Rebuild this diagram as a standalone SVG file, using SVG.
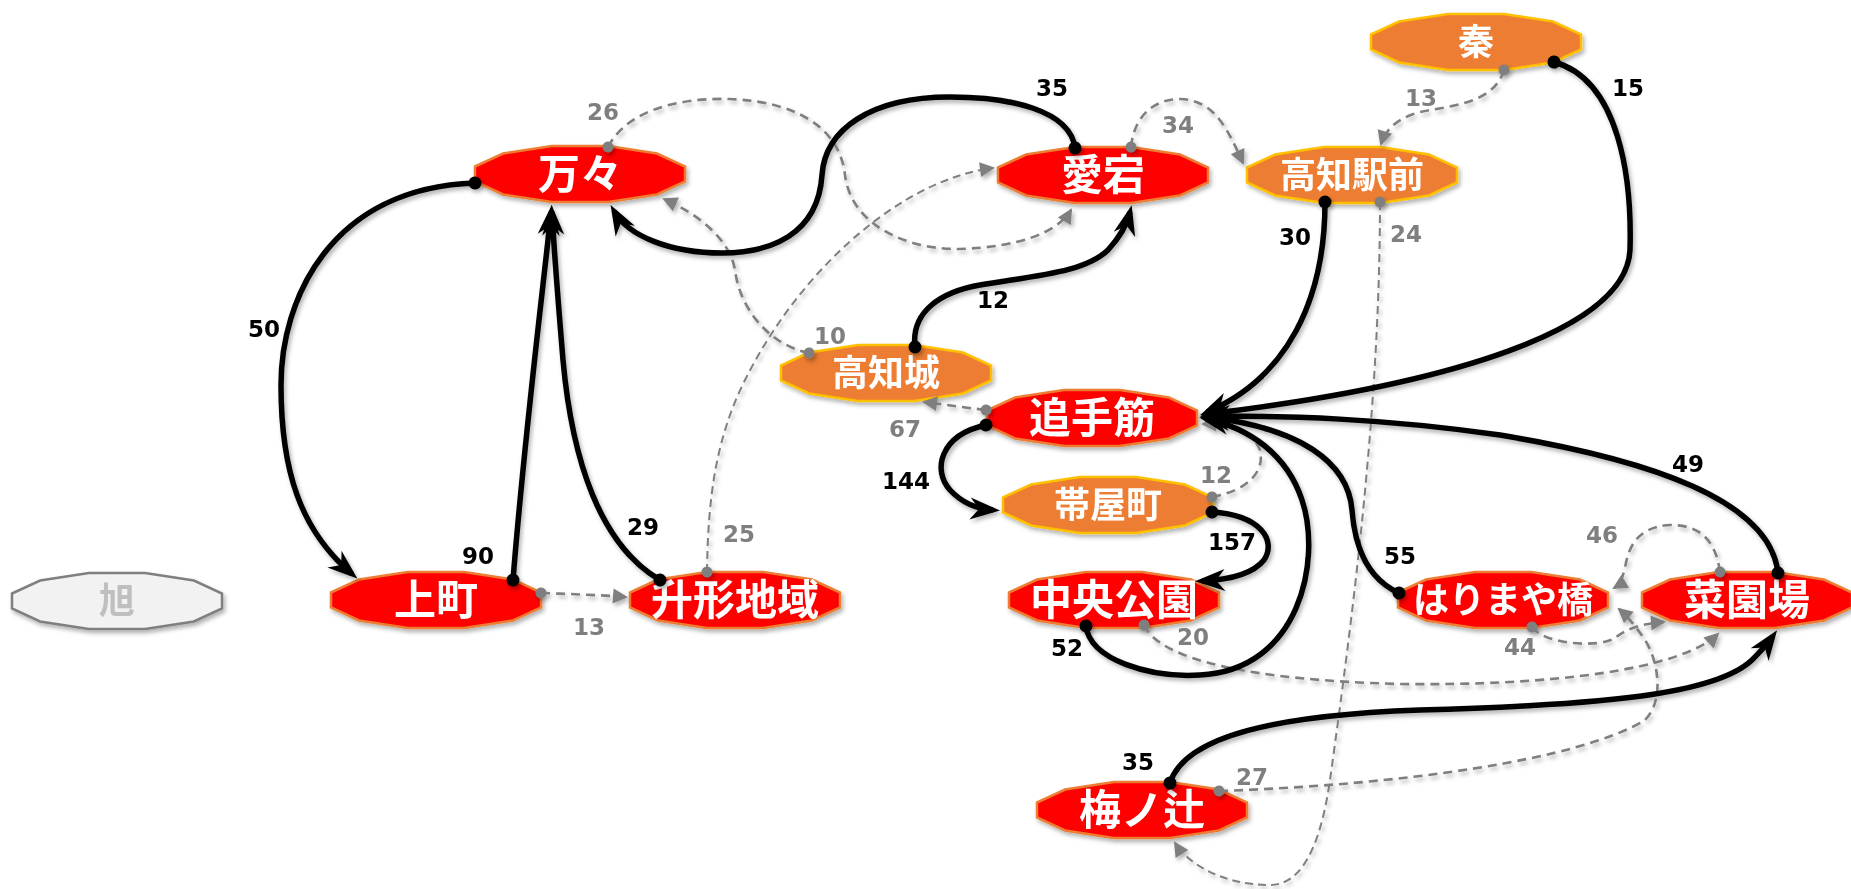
<svg xmlns="http://www.w3.org/2000/svg" width="1851" height="889" viewBox="0 0 1851 889">
<style>
.n polygon{stroke-width:2.5;stroke-linejoin:miter}
.red polygon{fill:#FF0000;stroke:#ED7D31}
.org polygon{fill:#ED7D31;stroke:#FFC000}
.gry polygon{fill:#F2F2F2;stroke:#7F7F7F}
.n text{font-family:"Noto Sans CJK JP","Noto Sans CJK SC",sans-serif;font-weight:700;fill:#FFFFFF;text-anchor:middle}
.red text{font-size:42px}
.org text{font-size:36px}
.gry text{font-size:36px;fill:#BFBFBF}
.b{fill:none;stroke:#000;stroke-width:5.5;marker-start:url(#dotB);marker-end:url(#arrB)}
.g{fill:none;stroke:#7F7F7F;stroke-width:2.6;stroke-dasharray:9 6;marker-start:url(#dotG);marker-end:url(#arrG)}
.g.thin{stroke-width:2;stroke-dasharray:8 5}
.lb{font-family:"DejaVu Sans",Verdana,sans-serif;font-weight:700;font-size:23px;fill:#000;text-anchor:middle}
.lg{font-family:"DejaVu Sans",Verdana,sans-serif;font-weight:700;font-size:23px;fill:#7F7F7F;text-anchor:middle}
</style>
<defs>
<filter id="sh" x="-10%" y="-20%" width="120%" height="150%">
<feDropShadow dx="2" dy="3" stdDeviation="2" flood-color="#000" flood-opacity="0.3"/>
</filter>
<marker id="arrB" markerUnits="userSpaceOnUse" orient="auto" refX="-7" refY="0" markerWidth="40" markerHeight="30" overflow="visible">
<path d="M0,0 L-30,-11 L-21,0 L-30,11 Z" fill="#000"/>
</marker>
<marker id="arrG" markerUnits="userSpaceOnUse" orient="auto" refX="-2" refY="0" markerWidth="20" markerHeight="20" overflow="visible">
<path d="M0,0 L-15,-7.5 L-15,7.5 Z" fill="#7F7F7F"/>
</marker>
<marker id="dotB" markerUnits="userSpaceOnUse" orient="auto" refX="0" refY="0" markerWidth="14" markerHeight="14" overflow="visible">
<circle cx="0" cy="0" r="6.5" fill="#000"/>
</marker>
<marker id="dotG" markerUnits="userSpaceOnUse" orient="auto" refX="0" refY="0" markerWidth="12" markerHeight="12" overflow="visible">
<circle cx="0" cy="0" r="5.5" fill="#7F7F7F"/>
</marker>
</defs>
<rect width="1851" height="889" fill="#FFFFFF"/>

<g id="nodes" filter="url(#sh)">
<g id="n-hata" class="n org" transform="translate(1476,42)"><polygon points="-105,-7.5 -76.9,-20.5 -28.1,-28 28.1,-28 76.9,-20.5 105,-7.5 105,7.5 76.9,20.5 28.1,28 -28.1,28 -76.9,20.5 -105,7.5"/><text x="0" y="13">秦</text></g>
<g id="n-kochieki" class="n org" transform="translate(1352,175)"><polygon points="-105,-7.5 -76.9,-20.5 -28.1,-28 28.1,-28 76.9,-20.5 105,-7.5 105,7.5 76.9,20.5 28.1,28 -28.1,28 -76.9,20.5 -105,7.5"/><text x="0" y="13">高知駅前</text></g>
<g id="n-atago" class="n red" transform="translate(1103,175)"><polygon points="-105,-7.5 -76.9,-20.5 -28.1,-28 28.1,-28 76.9,-20.5 105,-7.5 105,7.5 76.9,20.5 28.1,28 -28.1,28 -76.9,20.5 -105,7.5"/><text x="0" y="15">愛宕</text></g>
<g id="n-mama" class="n red" transform="translate(580,174)"><polygon points="-105,-7.5 -76.9,-20.5 -28.1,-28 28.1,-28 76.9,-20.5 105,-7.5 105,7.5 76.9,20.5 28.1,28 -28.1,28 -76.9,20.5 -105,7.5"/><text x="0" y="15">万々</text></g>
<g id="n-kochijo" class="n org" transform="translate(886,373)"><polygon points="-105,-7.5 -76.9,-20.5 -28.1,-28 28.1,-28 76.9,-20.5 105,-7.5 105,7.5 76.9,20.5 28.1,28 -28.1,28 -76.9,20.5 -105,7.5"/><text x="0" y="13">高知城</text></g>
<g id="n-otesuji" class="n red" transform="translate(1092,418)"><polygon points="-105,-7.5 -76.9,-20.5 -28.1,-28 28.1,-28 76.9,-20.5 105,-7.5 105,7.5 76.9,20.5 28.1,28 -28.1,28 -76.9,20.5 -105,7.5"/><text x="0" y="15">追手筋</text></g>
<g id="n-obiyamachi" class="n org" transform="translate(1108,505)"><polygon points="-105,-7.5 -76.9,-20.5 -28.1,-28 28.1,-28 76.9,-20.5 105,-7.5 105,7.5 76.9,20.5 28.1,28 -28.1,28 -76.9,20.5 -105,7.5"/><text x="0" y="13">帯屋町</text></g>
<g id="n-chuokoen" class="n red" transform="translate(1114,600)"><polygon points="-105,-7.5 -76.9,-20.5 -28.1,-28 28.1,-28 76.9,-20.5 105,-7.5 105,7.5 76.9,20.5 28.1,28 -28.1,28 -76.9,20.5 -105,7.5"/><text x="0" y="15">中央公園</text></g>
<g id="n-masugata" class="n red" transform="translate(735,600)"><polygon points="-105,-7.5 -76.9,-20.5 -28.1,-28 28.1,-28 76.9,-20.5 105,-7.5 105,7.5 76.9,20.5 28.1,28 -28.1,28 -76.9,20.5 -105,7.5"/><text x="0" y="15">升形地域</text></g>
<g id="n-kamimachi" class="n red" transform="translate(436,600)"><polygon points="-105,-7.5 -76.9,-20.5 -28.1,-28 28.1,-28 76.9,-20.5 105,-7.5 105,7.5 76.9,20.5 28.1,28 -28.1,28 -76.9,20.5 -105,7.5"/><text x="0" y="15">上町</text></g>
<g id="n-asahi" class="n gry" transform="translate(117,601)"><polygon points="-105,-7.5 -76.9,-20.5 -28.1,-28 28.1,-28 76.9,-20.5 105,-7.5 105,7.5 76.9,20.5 28.1,28 -28.1,28 -76.9,20.5 -105,7.5"/><text x="0" y="13">旭</text></g>
<g id="n-harimayabashi" class="n red" transform="translate(1503,600)"><polygon points="-105,-7.5 -76.9,-20.5 -28.1,-28 28.1,-28 76.9,-20.5 105,-7.5 105,7.5 76.9,20.5 28.1,28 -28.1,28 -76.9,20.5 -105,7.5"/><text x="0" y="13" style="font-size:36px">はりまや橋</text></g>
<g id="n-saienba" class="n red" transform="translate(1747,600)"><polygon points="-105,-7.5 -76.9,-20.5 -28.1,-28 28.1,-28 76.9,-20.5 105,-7.5 105,7.5 76.9,20.5 28.1,28 -28.1,28 -76.9,20.5 -105,7.5"/><text x="0" y="15">菜園場</text></g>
<g id="n-umenotsuji" class="n red" transform="translate(1142,810)"><polygon points="-105,-7.5 -76.9,-20.5 -28.1,-28 28.1,-28 76.9,-20.5 105,-7.5 105,7.5 76.9,20.5 28.1,28 -28.1,28 -76.9,20.5 -105,7.5"/><text x="0" y="15">梅ノ辻</text></g>
</g>

<g id="connectors" filter="url(#sh)">
<path class="g" d="M608,147 C630,105 690,98 730,99 C800,102 840,130 845,175 C852,230 915,250 960,249 C1020,247 1058,232 1071,210"/>
<path class="g" d="M809,353 C770,345 740,310 735,270 C730,240 700,215 664,199"/>
<path class="g thin" d="M707,572 C708,500 715,440 745,380 C800,270 900,180 993,168"/>
<path class="g" d="M1131,147 C1135,110 1160,99 1180,99 C1215,100 1228,130 1243,163"/>
<path class="g" d="M1504,70 C1495,100 1460,105 1430,110 C1400,115 1386,128 1381,144"/>
<path class="g thin" d="M1380,202 C1380,400 1355,600 1330,780 C1320,850 1300,885 1270,885 C1220,885 1187,862 1175,843"/>
<path class="g" d="M986,410 C960,407 940,404 924,402"/>
<path class="g" d="M1212,497 C1250,490 1265,470 1260,450 C1252,430 1228,424 1203,424"/>
<path class="g" d="M1144,625 C1160,660 1250,680 1400,684 C1550,686 1680,670 1718,634"/>
<path class="g" d="M1532,627 C1545,645 1600,648 1615,638 C1625,630 1638,624 1664,622"/>
<path class="g" d="M1720,572 C1715,535 1695,525 1670,525 C1635,527 1628,550 1625,568 C1622,580 1619,585 1614,588"/>
<path class="g" d="M1219,791 C1400,785 1580,760 1645,720 C1665,700 1658,660 1645,640 C1635,625 1626,615 1619,609"/>
<path class="g" d="M541,593 C570,594 600,595 626,597"/>

<path class="b" d="M475,183 C330,188 281,300 281,385 C281,470 300,530 352,574"/>
<path class="b" d="M513,580 C525,430 543,290 551,212"/>
<path class="b" d="M660,580 C600,545 572,460 563,360 C558,300 554,250 552,212"/>
<path class="b" d="M1075,148 C1070,110 1010,97 950,97 C870,97 825,130 822,175 C818,235 770,253 722,253 C670,253 628,236 614,211"/>
<path class="b" d="M915,347 C911,312 940,292 980,285 C1040,275 1085,272 1108,250 C1120,237 1127,224 1130,212"/>
<path class="b" d="M1325,202 C1325,300 1287,378 1207,412"/>
<path class="b" d="M1554,62 C1620,80 1632,180 1630,250 C1626,330 1450,385 1207,414"/>
<path class="b" d="M1778,573 C1770,500 1650,460 1500,435 C1380,418 1290,416 1207,416"/>
<path class="b" d="M1399,593 C1370,580 1355,550 1352,510 C1348,462 1300,428 1207,417"/>
<path class="b" d="M1086,626 C1090,660 1150,678 1200,675 C1300,670 1322,560 1302,500 C1287,455 1250,428 1206,419"/>
<path class="b" d="M986,425 C940,435 932,470 950,490 C963,504 978,509 993,510"/>
<path class="b" d="M1212,512 C1260,515 1277,540 1264,560 C1252,575 1225,580 1202,581"/>
<path class="b" d="M1170,783 C1185,735 1280,715 1420,710 C1600,705 1715,695 1752,660 C1762,650 1768,643 1773,636"/>
</g>

<g id="labels">
<text class="lb" x="264" y="337">50</text>
<text class="lb" x="478" y="564">90</text>
<text class="lb" x="643" y="535">29</text>
<text class="lb" x="1052" y="96">35</text>
<text class="lb" x="993" y="308">12</text>
<text class="lb" x="1295" y="245">30</text>
<text class="lb" x="1628" y="96">15</text>
<text class="lb" x="1688" y="472">49</text>
<text class="lb" x="1400" y="564">55</text>
<text class="lb" x="1067" y="656">52</text>
<text class="lb" x="906" y="489">144</text>
<text class="lb" x="1232" y="550">157</text>
<text class="lb" x="1138" y="770">35</text>
<text class="lg" x="603" y="120">26</text>
<text class="lg" x="830" y="344">10</text>
<text class="lg" x="739" y="542">25</text>
<text class="lg" x="1178" y="133">34</text>
<text class="lg" x="1421" y="106">13</text>
<text class="lg" x="1406" y="242">24</text>
<text class="lg" x="905" y="437">67</text>
<text class="lg" x="1216" y="483">12</text>
<text class="lg" x="1193" y="645">20</text>
<text class="lg" x="1520" y="655">44</text>
<text class="lg" x="1602" y="543">46</text>
<text class="lg" x="1252" y="785">27</text>
<text class="lg" x="589" y="635">13</text>
</g>
</svg>
